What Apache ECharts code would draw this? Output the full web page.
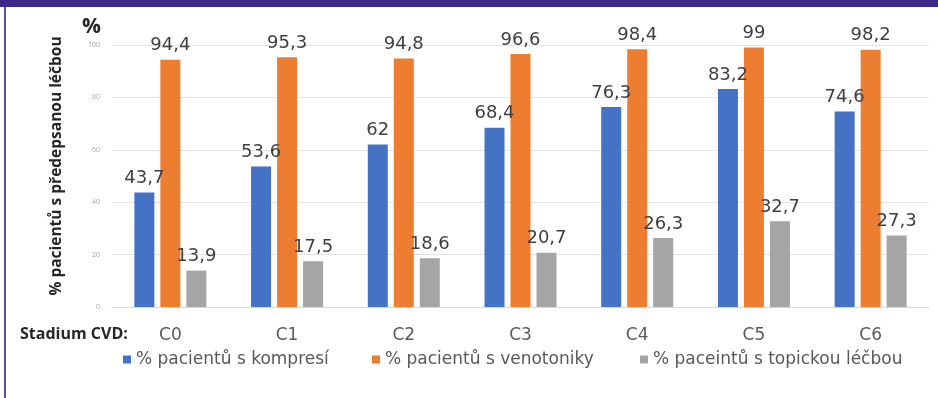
<!DOCTYPE html>
<html>
<head>
<meta charset="utf-8">
<style>
  html, body { margin: 0; padding: 0; background: #ffffff; }
  #chart { width: 938px; height: 398px; }
</style>
<script src="https://cdn.jsdelivr.net/npm/echarts@6/dist/echarts.min.js"></script>
</head>
<body>
<div id="chart"></div>
<script>
// CVD stages (CEAP classes C0–C6)
const stages = ['C0', 'C1', 'C2', 'C3', 'C4', 'C5', 'C6'];

// Share of patients (%) per treatment type
const compression = [43.7, 53.6, 62, 68.4, 76.3, 83.2, 74.6];
const venotonics  = [94.4, 95.3, 94.8, 96.6, 98.4, 99, 98.2];
const topical     = [13.9, 17.5, 18.6, 20.7, 26.3, 32.7, 27.3];

const seriesNames = [
  '% pacientů s kompresí',
  '% pacientů s venotoniky',
  '% paceintů s topickou léčbou'
];
const seriesColors = ['#4472C4', '#ED7D31', '#A5A5A5'];

const yTicks = { min: 0, max: 100, step: 20 };

const chart = echarts.init(document.getElementById('chart'), null, { renderer: 'canvas' });

const commaLabel = p => String(p.value).replace('.', ',');

function barSeries(name, data, color) {
  return {
    name: name,
    type: 'bar',
    data: data,
    barWidth: 20,
    barGap: '30%',
    itemStyle: { color: color },
    label: {
      show: true,
      position: 'top',
      distance: 5,
      formatter: commaLabel,
      fontFamily: 'DejaVu Sans',
      fontSize: 18,
      color: '#404040'
    }
  };
}

const legendLefts = [123, 372, 640];
const legends = seriesNames.map((n, i) => ({
  data: [n],
  left: legendLefts[i],
  top: 351,
  padding: 0,
  icon: 'rect',
  itemWidth: 8,
  itemHeight: 8,
  textStyle: { fontFamily: 'DejaVu Sans', fontSize: 17, color: '#595959' }
}));

chart.setOption({
  animation: false,
  backgroundColor: '#ffffff',
  textStyle: { fontFamily: 'Open Sans' },
  title: [
    {
      text: '%', left: 82, top: 17, padding: 0,
      textStyle: { fontFamily: 'Open Sans', fontSize: 21, fontWeight: 'bold', color: '#262626' }
    },
    {
      text: 'Stadium CVD:', left: 20, top: 326, padding: 0,
      textStyle: { fontFamily: 'Open Sans', fontSize: 16, fontWeight: 'bold', color: '#262626' }
    }
  ],
  legend: legends,
  grid: { left: 112, right: 9, top: 45, bottom: 91, containLabel: false },
  xAxis: {
    type: 'category',
    data: stages,
    axisLine: { show: true, lineStyle: { color: '#d9d9d9' } },
    axisTick: { show: false },
    axisLabel: { margin: 20, fontFamily: 'DejaVu Sans', fontSize: 17, color: '#595959' }
  },
  yAxis: {
    type: 'value',
    min: yTicks.min,
    max: yTicks.max,
    interval: yTicks.step,
    name: '% pacientů s předepsanou léčbou',
    nameLocation: 'middle',
    nameGap: 47,
    nameRotate: 90,
    nameTextStyle: {
      fontFamily: 'Open Sans', fontSize: 15.5, fontWeight: 'bold', color: '#262626',
      padding: [0, 0, 0, 20]
    },
    axisLine: { show: false },
    axisTick: { show: false },
    axisLabel: { margin: 12, fontSize: 7, color: '#a6a6a6' },
    splitLine: { lineStyle: { color: '#e3e3e3' } }
  },
  series: [
    barSeries(seriesNames[0], compression, seriesColors[0]),
    barSeries(seriesNames[1], venotonics, seriesColors[1]),
    barSeries(seriesNames[2], topical, seriesColors[2])
  ],
  graphic: [
    { type: 'rect', left: 0, top: 0, shape: { width: 938, height: 7 }, style: { fill: '#3a2a86' } },
    { type: 'rect', left: 4, top: 7, shape: { width: 2, height: 391 }, style: { fill: '#5d4ca3' } }
  ]
});
</script>
</body>
</html>
